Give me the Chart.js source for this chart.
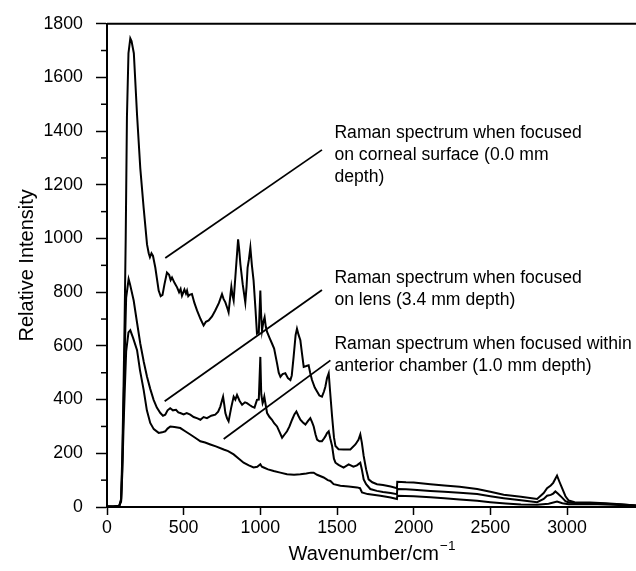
<!DOCTYPE html>
<html>
<head>
<meta charset="utf-8">
<script src="https://cdn.jsdelivr.net/npm/chart.js@4.4.0/dist/chart.umd.min.js"></script>
<style>
  html, body { margin: 0; padding: 0; background: #fff; }
  #box { width: 636px; height: 571px; }
</style>
</head>
<body>
<div id="box"><canvas id="spectra"></canvas></div>
<script>
// Raman spectra of the eye (wavenumber cm-1 / relative intensity)
const corneaWn = [0, 40, 80, 92, 100, 108, 115, 122, 130, 140, 152, 160, 175, 196, 217, 239, 261, 272, 280, 290, 300, 315, 337, 350, 362, 375, 391, 405, 415, 424, 440, 457, 470, 480, 489, 505, 515, 522, 530, 538, 554, 570, 587, 610, 630, 645, 663, 685, 706, 730, 750, 760, 772, 785, 793, 805, 811, 818, 826, 840, 855, 862, 870, 885, 902, 910, 917, 925, 935, 945, 956, 968, 978, 990, 1000, 1005, 1011, 1020, 1028, 1036, 1044, 1060, 1076, 1090, 1109, 1120, 1131, 1145, 1163, 1180, 1196, 1205, 1217, 1230, 1239, 1250, 1261, 1272, 1283, 1300, 1315, 1325, 1337, 1355, 1370, 1385, 1402, 1415, 1424, 1435, 1446, 1455, 1468, 1480, 1490, 1510, 1543, 1587, 1620, 1640, 1652, 1662, 1674, 1690, 1706, 1730, 1761, 1800, 1850, 1891, 1893, 1950, 2000, 2109, 2200, 2300, 2414, 2500, 2587, 2700, 2805, 2848, 2870, 2894, 2910, 2935, 2950, 2968, 2990, 3011, 3050, 3150, 3250, 3350, 3450];
const corneaInt = [3, 2, 5, 30, 200, 450, 700, 1000, 1450, 1690, 1745, 1735, 1690, 1460, 1262, 1114, 978, 945, 930, 945, 935, 892, 806, 785, 790, 830, 873, 865, 845, 855, 835, 818, 800, 812, 787, 810, 795, 806, 785, 790, 793, 760, 732, 700, 676, 690, 695, 710, 732, 760, 793, 775, 762, 740, 725, 790, 820, 790, 769, 880, 997, 960, 904, 830, 762, 820, 892, 920, 966, 900, 843, 740, 646, 650, 806, 720, 658, 690, 707, 670, 652, 630, 609, 590, 535, 500, 485, 495, 498, 480, 473, 490, 559, 640, 664, 640, 621, 570, 522, 525, 528, 500, 473, 445, 430, 415, 411, 430, 448, 480, 498, 430, 337, 260, 227, 215, 214, 214, 233, 250, 270, 240, 190, 140, 103, 92, 85, 82, 76, 70, 94, 92, 91, 85, 80, 75, 67, 57, 46, 38, 30, 52, 70, 80, 90, 117, 95, 70, 40, 24, 18, 17, 14, 10, 6];

const lensWn = [0, 40, 80, 92, 100, 108, 115, 125, 141, 150, 174, 195, 217, 240, 261, 282, 304, 325, 348, 365, 380, 395, 412, 430, 450, 465, 478, 500, 520, 543, 565, 590, 609, 630, 652, 680, 706, 725, 739, 749, 757, 765, 772, 783, 793, 810, 826, 837, 848, 865, 881, 900, 913, 930, 946, 962, 978, 990, 1000, 1006, 1015, 1020, 1026, 1035, 1044, 1060, 1076, 1090, 1109, 1125, 1142, 1158, 1174, 1190, 1207, 1222, 1235, 1248, 1261, 1278, 1294, 1310, 1326, 1338, 1348, 1360, 1370, 1385, 1402, 1415, 1424, 1435, 1446, 1456, 1468, 1480, 1490, 1510, 1522, 1543, 1576, 1607, 1630, 1652, 1662, 1674, 1690, 1717, 1760, 1800, 1850, 1891, 1893, 1950, 2000, 2109, 2200, 2300, 2414, 2500, 2587, 2700, 2805, 2848, 2870, 2894, 2910, 2924, 2940, 2968, 2990, 3011, 3050, 3150, 3250, 3350, 3450];
const lensInt = [2, 2, 4, 25, 160, 380, 560, 780, 849, 830, 769, 690, 609, 540, 485, 440, 399, 370, 350, 340, 344, 360, 368, 360, 362, 352, 350, 345, 350, 344, 335, 330, 325, 335, 331, 340, 344, 355, 374, 395, 411, 380, 350, 330, 319, 370, 411, 400, 417, 395, 381, 390, 387, 380, 374, 370, 399, 400, 559, 420, 387, 395, 411, 380, 350, 335, 325, 312, 300, 280, 258, 270, 282, 300, 325, 345, 356, 340, 325, 315, 307, 320, 331, 315, 300, 270, 251, 245, 245, 255, 263, 275, 282, 255, 227, 180, 165, 157, 153, 147, 159, 150, 155, 165, 140, 103, 85, 67, 60, 56, 52, 48, 67, 66, 64, 60, 57, 53, 48, 40, 33, 25, 18, 30, 42, 45, 50, 58, 50, 35, 22, 17, 15, 14, 12, 9, 6];

const chamberWn = [0, 40, 80, 92, 100, 108, 115, 125, 140, 152, 170, 196, 215, 239, 260, 282, 305, 337, 360, 380, 395, 413, 440, 478, 510, 543, 575, 609, 640, 674, 710, 761, 790, 826, 860, 891, 925, 956, 980, 1000, 1010, 1022, 1050, 1087, 1130, 1174, 1220, 1261, 1300, 1330, 1348, 1370, 1413, 1440, 1457, 1478, 1522, 1576, 1631, 1650, 1663, 1700, 1783, 1850, 1891, 1893, 2000, 2109, 2200, 2300, 2414, 2500, 2600, 2700, 2805, 2880, 2935, 2970, 3011, 3100, 3200, 3300, 3450];
const chamberInt = [2, 2, 4, 20, 130, 300, 420, 580, 650, 658, 630, 584, 510, 436, 360, 313, 290, 276, 278, 282, 292, 300, 298, 294, 282, 270, 258, 245, 240, 233, 226, 214, 208, 196, 180, 165, 155, 147, 150, 159, 150, 147, 140, 134, 128, 122, 120, 122, 125, 128, 128, 120, 110, 100, 97, 85, 79, 76, 73, 70, 54, 48, 42, 35, 30, 42, 40, 36, 33, 28, 23, 18, 13, 9, 8, 12, 20, 14, 10, 11, 10, 8, 5];

const xTickValues = [0, 500, 1000, 1500, 2000, 2500, 3000];
const yTickValues = [0, 200, 400, 600, 800, 1000, 1200, 1400, 1600, 1800];
const yMinorValues = [100, 300, 500, 700, 900, 1100, 1300, 1500, 1700];

// callout texts, anchored in data units (first line), with their leader lines
const noteText = [
  ['Raman spectrum when focused', 'on corneal surface (0.0 mm', 'depth)'],
  ['Raman spectrum when focused', 'on lens (3.4 mm depth)'],
  ['Raman spectrum when focused within', 'anterior chamber (1.0 mm depth)']
];
const noteAt = [[1483, 1393], [1483, 852], [1483, 607]];
const leaderFrom = [[380, 927], [376, 394], [761, 253]];
const leaderTo = [[1402, 1330], [1402, 808], [1457, 546]];

const FONT = '"Liberation Sans", Arial, Helvetica, sans-serif';
const TICK_SIZE = 17.8;
const NOTE_SIZE = 17.6;
const TITLE_SIZE = 20;

function pairs(xs, ys) {
  return xs.map((x, i) => ({ x: x, y: ys[i] }));
}

function spectrum(label, xs, ys) {
  return {
    label: label,
    data: pairs(xs, ys),
    showLine: true,
    borderColor: '#000',
    borderWidth: 2,
    pointRadius: 0,
    tension: 0,
    fill: false
  };
}

const extras = {
  id: 'extras',
  afterDraw(chart) {
    const ctx = chart.ctx;
    const xs = chart.scales.x, ys = chart.scales.y;
    const area = chart.chartArea;
    ctx.save();
    ctx.strokeStyle = '#000';
    ctx.fillStyle = '#000';

    // top frame line
    ctx.lineWidth = 2;
    ctx.beginPath();
    ctx.moveTo(area.left, area.top);
    ctx.lineTo(area.right, area.top);
    ctx.stroke();

    // minor ticks on the intensity axis
    ctx.lineWidth = 1.5;
    yMinorValues.forEach(v => {
      const y = ys.getPixelForValue(v);
      ctx.beginPath();
      ctx.moveTo(area.left - 6, y);
      ctx.lineTo(area.left, y);
      ctx.stroke();
    });

    // leader lines
    ctx.lineWidth = 1.8;
    leaderFrom.forEach((p, i) => {
      const q = leaderTo[i];
      ctx.beginPath();
      ctx.moveTo(xs.getPixelForValue(p[0]), ys.getPixelForValue(p[1]));
      ctx.lineTo(xs.getPixelForValue(q[0]), ys.getPixelForValue(q[1]));
      ctx.stroke();
    });

    // callout texts
    ctx.font = NOTE_SIZE + 'px ' + FONT;
    ctx.textBaseline = 'middle';
    ctx.textAlign = 'left';
    noteText.forEach((lines, i) => {
      const x = xs.getPixelForValue(noteAt[i][0]);
      const y0 = ys.getPixelForValue(noteAt[i][1]);
      lines.forEach((t, k) => ctx.fillText(t, x, y0 + k * 22));
    });

    // x axis title with superscript
    const main = 'Wavenumber/cm';
    const sup = '\u22121';
    ctx.font = TITLE_SIZE + 'px ' + FONT;
    const wMain = ctx.measureText(main).width;
    ctx.font = (TITLE_SIZE * 0.68) + 'px ' + FONT;
    const wSup = ctx.measureText(sup).width;
    const cx = (area.left + area.right) / 2;
    const x0 = cx - (wMain + wSup) / 2;
    const ty = 554;
    ctx.font = TITLE_SIZE + 'px ' + FONT;
    ctx.fillText(main, x0, ty);
    ctx.font = (TITLE_SIZE * 0.68) + 'px ' + FONT;
    ctx.fillText(sup, x0 + wMain + 1, ty - 8);
    ctx.restore();
  }
};

const ctx = document.getElementById('spectra').getContext('2d');
new Chart(ctx, {
  type: 'scatter',
  data: {
    datasets: [
      spectrum('Corneal surface (0.0 mm)', corneaWn, corneaInt),
      spectrum('Lens (3.4 mm)', lensWn, lensInt),
      spectrum('Anterior chamber (1.0 mm)', chamberWn, chamberInt)
    ]
  },
  options: {
    responsive: true,
    maintainAspectRatio: false,
    animation: false,
    layout: { padding: { top: 21, right: 0, left: 0, bottom: 0 } },
    plugins: {
      legend: { display: false },
      tooltip: { enabled: false }
    },
    scales: {
      x: {
        type: 'linear',
        min: 0,
        max: 3450,
        afterFit(scale) { scale.height = 64; },
        afterBuildTicks(scale) { scale.ticks = xTickValues.map(v => ({ value: v })); },
        ticks: {
          color: '#000',
          font: { family: FONT, size: TICK_SIZE },
          padding: 2,
          maxRotation: 0,
          callback: v => String(v)
        },
        grid: { drawOnChartArea: false, drawTicks: true, tickLength: 8, tickColor: '#000', tickWidth: 1.5 },
        border: { display: true, color: '#000', width: 2 },
        title: { display: false }
      },
      y: {
        type: 'linear',
        min: 0,
        max: 1800,
        afterFit(scale) { scale.width = 107; },
        afterBuildTicks(scale) { scale.ticks = yTickValues.map(v => ({ value: v })); },
        ticks: {
          color: '#000',
          font: { family: FONT, size: TICK_SIZE },
          padding: 13,
          callback: v => String(v)
        },
        grid: { drawOnChartArea: false, drawTicks: true, tickLength: 11, tickColor: '#000', tickWidth: 1.5 },
        border: { display: true, color: '#000', width: 2 },
        title: {
          display: true,
          text: 'Relative Intensity',
          color: '#000',
          font: { family: FONT, size: TITLE_SIZE },
          padding: { top: 15, bottom: 0 }
        }
      }
    }
  },
  plugins: [extras]
});
</script>
</body>
</html>
